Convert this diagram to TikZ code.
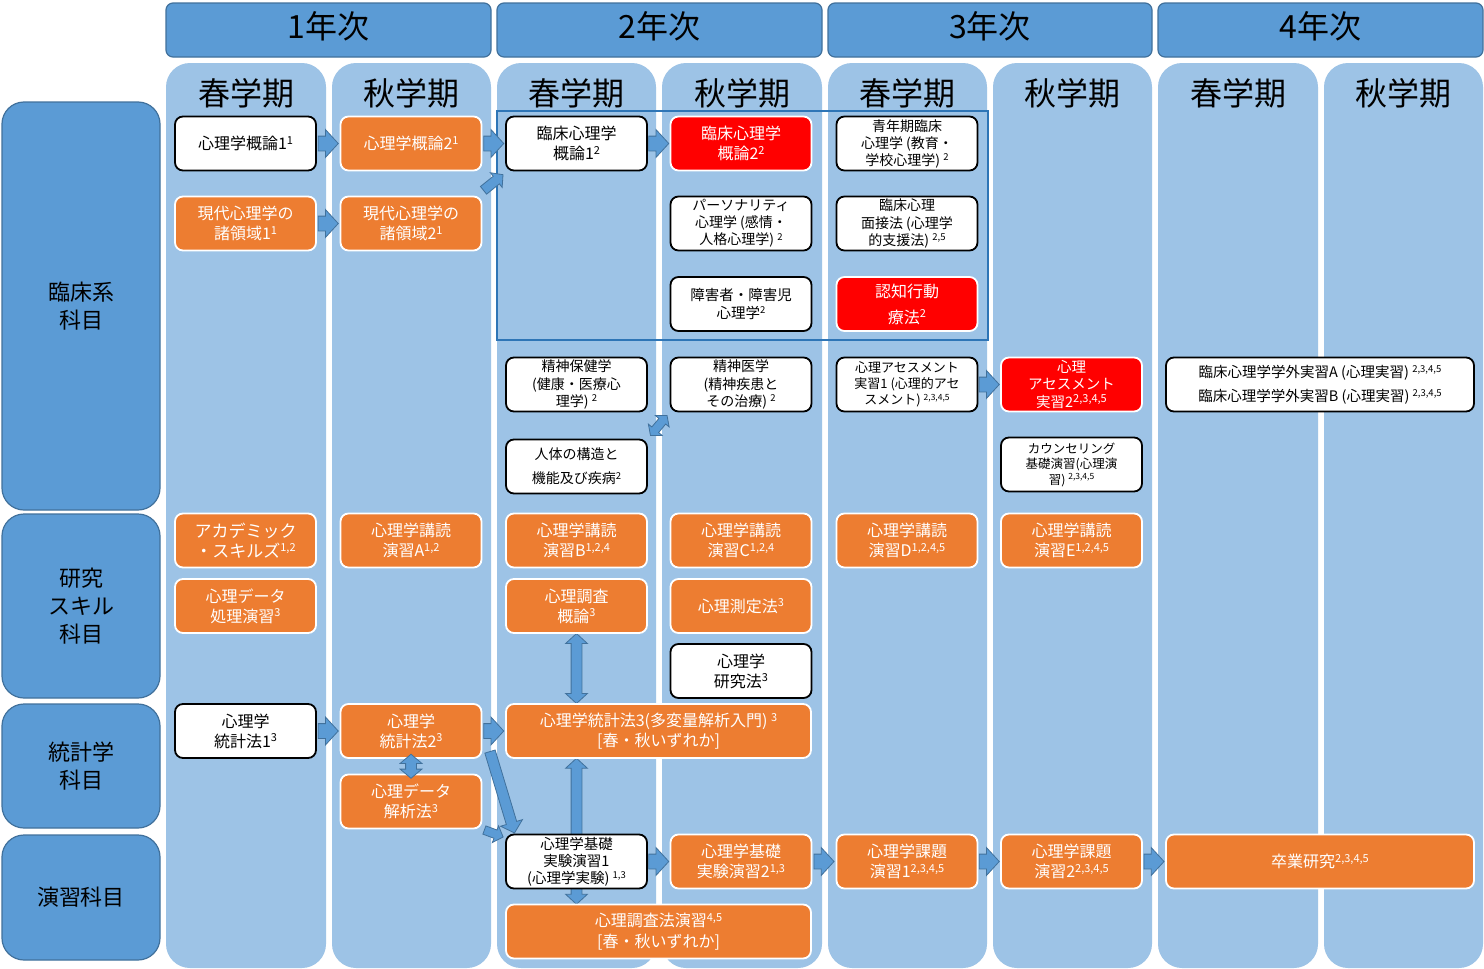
\documentclass[tikz,border=0pt]{standalone}
\usepackage{fontspec}
\setmainfont{Noto Sans CJK JP}
\usetikzlibrary{shapes.arrows,calc}
\definecolor{hdr}{HTML}{5B9BD5}
\definecolor{hdrline}{HTML}{41719C}
\definecolor{colbg}{HTML}{9DC3E6}
\definecolor{orng}{HTML}{ED7D31}
\definecolor{frm}{HTML}{2E75B6}
\pgfdeclarelayer{bg}
\pgfdeclarelayer{arr}
\pgfsetlayers{bg,arr,main}
\newcommand\sps[2][11]{\raisebox{0.33em}{\fontsize{#1}{#1}\selectfont #2}}
\newcommand\fs[2]{\fontsize{#1}{#2}\selectfont}
\tikzset{
 hdrbox/.style={draw=hdrline, fill=hdr, line width=1.2pt, rounded corners=7pt, inner sep=0pt},
 yearbox/.style={hdrbox, minimum width=325pt, minimum height=54pt, text depth=10pt, font=\fs{32}{36}},
 catbox/.style={hdrbox, rounded corners=22pt, minimum width=158pt, font=\fs{22}{28}, align=center},
 semlabel/.style={font=\fs{32}{36}, inner sep=0pt},
 colbox/.style={fill=colbg, rounded corners=24pt},
 box/.style={rounded corners=8pt, minimum width=141pt, minimum height=54pt, inner sep=1pt, align=center, line width=1.8pt, font=\fs{16}{20}},
 wbox/.style={box, draw=black, fill=white, text=black},
 obox/.style={box, draw=white, fill=orng, text=white},
 rbox/.style={box, draw=white, fill=red, text=white},
 widebox/.style={minimum width=305pt},
 arrbase/.style={draw=hdrline, fill=hdr, line width=0.8pt, inner xsep=0pt, outer sep=0pt},
 sarr/.style={arrbase, single arrow, inner ysep=7pt, single arrow head extend=6.5pt, single arrow tip angle=95},
 darr/.style={arrbase, double arrow, inner ysep=6pt, double arrow head extend=5pt, double arrow tip angle=95},
}
% single block arrow of length #4 centred between #2 and #3, pointing to #3
\newcommand\barr[4][]{\path ($ ($(#2)!0.5!(#3)$)!-0.5*#4!(#3) $) -- (#3) node[pos=0, sloped, allow upside down, anchor=tail, sarr, minimum height=#4, #1] {};}
% double block arrow of length #4 centred between #2 and #3
\newcommand\dar[4][]{\path (#2) -- (#3) node[pos=0.5, sloped, allow upside down, anchor=center, darr, minimum height=#4, #1] {};}
\begin{document}
\begin{tikzpicture}[x=1pt,y=-1pt]
\useasboundingbox (0,0) rectangle (1484,969);
\begin{pgfonlayer}{bg}
\fill[white] (0,0) rectangle (1484,969);
\fill[colbox] (166,63) rectangle (326,968);
\fill[colbox] (332,63) rectangle (491,968);
\fill[colbox] (497,63) rectangle (656,968);
\fill[colbox] (662,63) rectangle (822,968);
\fill[colbox] (828,63) rectangle (987,968);
\fill[colbox] (993,63) rectangle (1152,968);
\fill[colbox] (1158,63) rectangle (1318,968);
\fill[colbox] (1324,63) rectangle (1483,968);
\draw[frm, line width=2.5pt] (497,111) rectangle (988,340);
\end{pgfonlayer}

% year headers
\node[yearbox] (y1) at (328.5,30) {1年次};
\node[yearbox] (y2) at (659.5,30) {2年次};
\node[yearbox, minimum width=324pt] (y3) at (990,30) {3年次};
\node[yearbox] (y4) at (1320.5,30) {4年次};

% semester labels
\node[semlabel] (s1) at (246,93) {春学期};
\node[semlabel] (s2) at (411.5,93) {秋学期};
\node[semlabel] (s3) at (576.5,93) {春学期};
\node[semlabel] (s4) at (742,93) {秋学期};
\node[semlabel] (s5) at (907.5,93) {春学期};
\node[semlabel] (s6) at (1072.5,93) {秋学期};
\node[semlabel] (s7) at (1238,93) {春学期};
\node[semlabel] (s8) at (1403.5,93) {秋学期};

% category boxes
\node[catbox, minimum height=408pt] (k1) at (81,306) {臨床系\\科目};
\node[catbox, minimum height=184pt] (k2) at (81,606) {研究\\スキル\\科目};
\node[catbox, minimum height=124pt] (k3) at (81,766) {統計学\\科目};
\node[catbox, minimum height=125pt] (k4) at (81,897.5) {演習科目};

% column 1
\node[wbox] (g1) at (245.5,143.5) {心理学概論1\sps{1}};
\node[obox] (gd1) at (245.5,223.5) {現代心理学の\\諸領域1\sps{1}};
\node[obox, font=\fs{17}{20}] (ak) at (245.5,540.5) {アカデミック\\・スキルズ\sps{1,2}};
\node[obox] (dp) at (245.5,606) {心理データ\\処理演習\sps{3}};
\node[wbox] (st1) at (245.5,731) {心理学\\統計法1\sps{3}};

% column 2
\node[obox] (g2) at (411,143.5) {心理学概論2\sps{1}};
\node[obox] (gd2) at (411,223.5) {現代心理学の\\諸領域2\sps{1}};
\node[obox] (kA) at (411,540.5) {心理学講読\\演習A\sps{1,2}};
\node[obox] (st2) at (411,731) {心理学\\統計法2\sps{3}};
\node[obox] (da) at (411,801.5) {心理データ\\解析法\sps{3}};

% column 3
\node[wbox] (rc1) at (576.5,143.5) {臨床心理学\\概論1\sps{2}};
\node[wbox, font=\fs{14}{17.5}] (sh) at (576.5,384.5) {精神保健学\\(健康・医療心\\理学) \sps[9.5]{2}};
\node[wbox, font=\fs{14}{24}] (jt) at (576.5,466.5) {人体の構造と\\機能及び疾病\sps[9.5]{2}};
\node[obox] (kB) at (576.5,540.5) {心理学講読\\演習B\sps{1,2,4}};
\node[obox] (cg) at (576.5,606) {心理調査\\概論\sps{3}};
\node[obox, widebox] (st3) at (658.5,731) {心理学統計法3(多変量解析入門) \sps{3}\\\relax[春・秋いずれか]};
\node[wbox, font=\fs{14.5}{17}] (ex1) at (576.5,861.5) {心理学基礎\\実験演習1\\(心理学実験) \sps[9.5]{1,3}};
\node[obox, widebox, font=\fs{16}{21}] (cs) at (658.5,931.5) {心理調査法演習\sps{4,5}\\\relax[春・秋いずれか]};

% column 4
\node[rbox] (rc2) at (741,143.5) {臨床心理学\\概論2\sps{2}};
\node[wbox, font=\fs{14}{17}] (ps) at (741,223.5) {パーソナリティ\\心理学 (感情・\\人格心理学) \sps[9.5]{2}};
\node[wbox, font=\fs{14.5}{18}] (sg) at (741,304) {障害者・障害児\\心理学\sps[9.5]{2}};
\node[wbox, font=\fs{14}{17.5}] (si) at (741,384.5) {精神医学\\(精神疾患と\\その治療) \sps[9.5]{2}};
\node[obox] (kC) at (741,540.5) {心理学講読\\演習C\sps{1,2,4}};
\node[obox] (sk) at (741,606) {心理測定法\sps{3}};
\node[wbox] (kh) at (741,671) {心理学\\研究法\sps{3}};
\node[obox] (ex2) at (741,861.5) {心理学基礎\\実験演習2\sps{1,3}};

% column 5
\node[wbox, font=\fs{14}{17}] (sn) at (907,143.5) {青年期臨床\\心理学 (教育・\\学校心理学) \sps[9.5]{2}};
\node[wbox, font=\fs{14}{17.5}] (mn) at (907,223.5) {臨床心理\\面接法 (心理学\\的支援法) \sps[9.5]{2,5}};
\node[rbox, font=\fs{16}{26}] (nk) at (907,304) {認知行動\\療法\sps{2}};
\node[wbox, font=\fs{13}{16}] (as1) at (907,384.5) {心理アセスメント\\実習1 (心理的アセ\\スメント) \sps[8.5]{2,3,4,5}};
\node[obox] (kD) at (907,540.5) {心理学講読\\演習D\sps{1,2,4,5}};
\node[obox] (ka1) at (907,861.5) {心理学課題\\演習1\sps{2,3,4,5}};

% column 6
\node[rbox, font=\fs{14.5}{17.5}] (as2) at (1071.5,384.5) {心理\\アセスメント\\実習2\sps{2,3,4,5}};
\node[wbox, font=\fs{12.5}{15.5}] (cb) at (1071.5,464.5) {カウンセリング\\基礎演習(心理演\\習) \sps[8.5]{2,3,4,5}};
\node[obox] (kE) at (1071.5,540.5) {心理学講読\\演習E\sps{1,2,4,5}};
\node[obox] (ka2) at (1071.5,861.5) {心理学課題\\演習2\sps{2,3,4,5}};

% columns 7-8
\node[wbox, minimum width=308pt, font=\fs{14.5}{24}] (gg) at (1320,384.5) {臨床心理学学外実習A (心理実習) \sps[9.5]{2,3,4,5}\\臨床心理学学外実習B (心理実習) \sps[9.5]{2,3,4,5}};
\node[obox, minimum width=308pt] (sk2) at (1320,861.5) {卒業研究\sps{2,3,4,5}};

% free ends of short diagonal connectors
\coordinate (q1) at ($(gd2.north east)+(2,-6)$);
\coordinate (q2) at ($(rc1.south west)+(-3,4)$);
\coordinate (q3) at ($(st2.south east)+(8,-6)$);
\coordinate (q4) at ($(ex1.north west)+(9,-2)$);
\coordinate (q5) at ($(da.south east)+(3,1)$);
\coordinate (q6) at ($(ex1.north west)+(-3,3)$);

\begin{pgfonlayer}{arr}
\barr{g1.east}{g2.west}{20pt}
\barr{gd1.east}{gd2.west}{20pt}
\barr{g2.east}{rc1.west}{20pt}
\barr{rc1.east}{rc2.west}{20pt}
\barr{as1.east}{as2.west}{20pt}
\barr{st1.east}{st2.west}{20pt}
\barr{st2.east}{st3.west}{20pt}
\barr{ex1.east}{ex2.west}{20pt}
\barr{ex2.east}{ka1.west}{20pt}
\barr{ka1.east}{ka2.west}{20pt}
\barr{ka2.east}{sk2.west}{20pt}
\barr[inner ysep=4.5pt, single arrow head extend=4.5pt]{q1}{q2}{25pt}
\barr[inner ysep=5pt, single arrow head extend=6pt]{q3}{q4}{85pt}
\barr[inner ysep=4pt, single arrow head extend=4.5pt]{q5}{q6}{20pt}
\dar[inner ysep=5pt, double arrow head extend=5.5pt]{cg.south}{cg.south |- st3.north}{70pt}
\dar[inner ysep=5pt, double arrow head extend=5.5pt]{ex1.north |- st3.south}{ex1.north |- cs.north}{146pt}
\dar[inner ysep=4pt, double arrow head extend=4.5pt, double arrow tip angle=100]{jt.north east}{si.south west}{26pt}
\end{pgfonlayer}
% short double arrow drawn over the two boxes
\dar[inner ysep=5pt, double arrow head extend=5.5pt, double arrow tip angle=100]{st2.south}{da.north}{24pt}
\end{tikzpicture}
\end{document}
